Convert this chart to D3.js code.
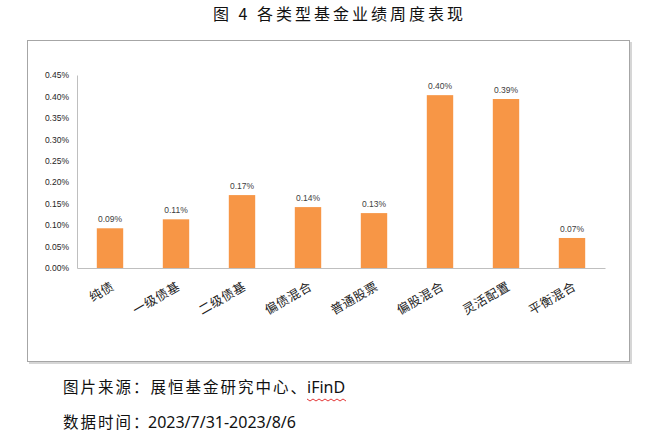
<!DOCTYPE html>
<html>
<head>
<meta charset="utf-8">
<script src="https://cdn.jsdelivr.net/npm/d3@7"></script>
<style>
  body { margin: 0; background: #fff; }
  svg { display: block; }
</style>
</head>
<body>
<div id="chart"></div>
<script>
// data
var categories = ["纯债", "一级债基", "二级债基", "偏债混合", "普通股票", "偏股混合", "灵活配置", "平衡混合"];
var values = [0.0009, 0.0011, 0.0017, 0.0014, 0.0013, 0.0040, 0.0039, 0.0007];
var barHeights = [0.000926, 0.001135, 0.00170, 0.00142, 0.00128, 0.00403, 0.00394, 0.00070];
var yTicks = [0, 0.0005, 0.001, 0.0015, 0.002, 0.0025, 0.003, 0.0035, 0.004, 0.0045];

var svgWidth = 652;
var svgHeight = 436;

var margin = {
  top: 75,
  right: 47,
  bottom: 168,
  left: 77
};

var width = svgWidth - margin.left - margin.right;
var height = svgHeight - margin.top - margin.bottom;

var svg = d3.select("#chart")
  .append("svg")
  .attr("width", svgWidth)
  .attr("height", svgHeight);

var cjk = "'Noto Sans CJK SC', sans-serif";

// title
svg.append("text")
  .attr("x", 213)
  .attr("y", 20)
  .attr("font-family", cjk)
  .attr("font-size", 16)
  .attr("letter-spacing", 3)
  .attr("fill", "#111")
  .text("图 4 各类型基金业绩周度表现");

// chart frame (with a bit of shadow like the original)
svg.append("rect")
  .attr("x", 29)
  .attr("y", 42)
  .attr("width", 603)
  .attr("height", 322)
  .attr("fill", "#d6d6d6");
svg.append("rect")
  .attr("x", 27.5)
  .attr("y", 40.5)
  .attr("width", 602)
  .attr("height", 321)
  .attr("fill", "#fff")
  .attr("stroke", "#a6a6a6")
  .attr("stroke-width", 1);

var chartGroup = svg.append("g")
  .attr("transform", `translate(${margin.left}, ${margin.top})`);

var xBandScale = d3.scaleBand()
  .domain(categories)
  .range([0, width])
  .paddingInner(0.6)
  .paddingOuter(0.3);

var yLinearScale = d3.scaleLinear()
  .domain([0, 0.0045])
  .range([height, 0]);

// y axis
var leftAxis = d3.axisLeft(yLinearScale)
  .tickValues(yTicks)
  .tickSize(0)
  .tickPadding(8)
  .tickFormat(d3.format(".2%"));

var yAxis = chartGroup.append("g")
  .call(leftAxis);
yAxis.select(".domain").attr("stroke", "#bfbfbf");
yAxis.selectAll("text")
  .attr("font-family", "'Liberation Sans', Arial, sans-serif")
  .attr("font-size", 8.5)
  .attr("fill", "#262626");

// x axis
var bottomAxis = d3.axisBottom(xBandScale)
  .tickSize(0)
  .tickFormat("");

var xAxis = chartGroup.append("g")
  .attr("transform", `translate(0, ${height})`)
  .call(bottomAxis);
xAxis.select(".domain").attr("stroke", "#bfbfbf");

// bars
chartGroup.selectAll("rect.bar")
  .data(categories)
  .enter()
  .append("rect")
  .attr("class", "bar")
  .attr("x", d => xBandScale(d))
  .attr("y", (d, i) => yLinearScale(barHeights[i]))
  .attr("width", xBandScale.bandwidth())
  .attr("height", (d, i) => height - yLinearScale(barHeights[i]))
  .attr("fill", "#f79646");

// value labels
chartGroup.selectAll("text.val")
  .data(categories)
  .enter()
  .append("text")
  .attr("class", "val")
  .attr("x", d => xBandScale(d) + xBandScale.bandwidth() / 2)
  .attr("y", (d, i) => yLinearScale(barHeights[i]) - 6)
  .attr("text-anchor", "middle")
  .attr("font-family", "'Liberation Sans', Arial, sans-serif")
  .attr("font-size", 8.5)
  .attr("fill", "#404040")
  .text((d, i) => d3.format(".2%")(values[i]));

// category labels, slanted
chartGroup.selectAll("text.cat")
  .data(categories)
  .enter()
  .append("text")
  .attr("class", "cat")
  .attr("text-anchor", "end")
  .attr("transform", d => `translate(${xBandScale(d) + xBandScale.bandwidth() / 2 + 5}, ${height + 21}) rotate(-30)`)
  .attr("font-family", cjk)
  .attr("font-size", 12.5)
  .attr("letter-spacing", 0.5)
  .attr("fill", "#222")
  .text(d => d);

// footer
var src = svg.append("text")
  .attr("x", 63)
  .attr("y", 393)
  .attr("font-family", cjk)
  .attr("font-size", 15.5)
  .attr("fill", "#111");
src.append("tspan")
  .attr("letter-spacing", 2)
  .text("图片来源：展恒基金研究中心、");
src.append("tspan")
  .attr("x", 307)
  .attr("font-family", "'Noto Sans', sans-serif")
  .attr("font-size", 16)
  .text("iFinD");

var dt = svg.append("text")
  .attr("x", 63)
  .attr("y", 428)
  .attr("font-family", cjk)
  .attr("font-size", 15.5)
  .attr("fill", "#111");
dt.append("tspan")
  .attr("letter-spacing", 2)
  .text("数据时间：");
dt.append("tspan")
  .attr("x", 148)
  .attr("font-family", "'Noto Sans', sans-serif")
  .attr("font-size", 16)
  .text("2023/7/31-2023/8/6");

// red spell-check squiggle under iFinD
var wave = d3.range(0, 14).map(i => [307 + i * 3, 399 + (i % 2 === 0 ? 0 : 2)]);
svg.append("path")
  .attr("d", d3.line()(wave))
  .attr("fill", "none")
  .attr("stroke", "#e02020")
  .attr("stroke-width", 0.9);
</script>
</body>
</html>
